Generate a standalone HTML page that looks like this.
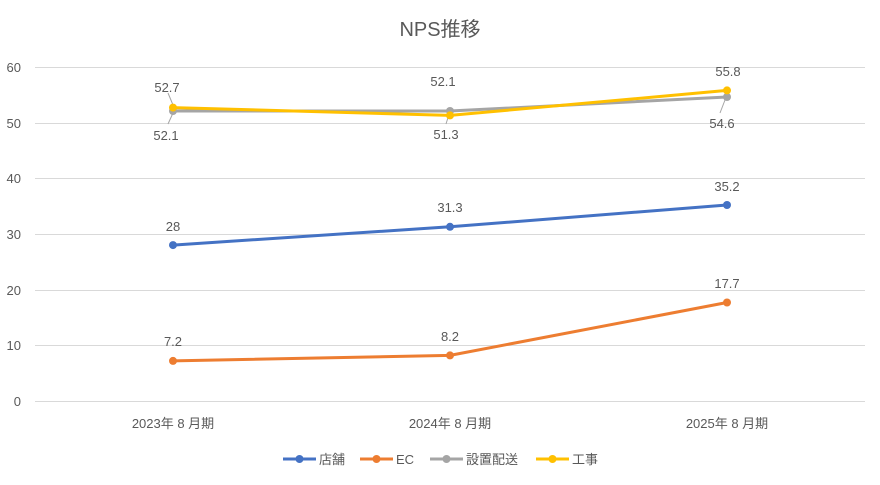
<!DOCTYPE html>
<html><head><meta charset="utf-8"><style>
body{margin:0;background:#fff}
svg text{font-family:"Liberation Sans","Noto Sans CJK JP",sans-serif;fill:#595959}
</style></head><body>
<svg width="880" height="480" viewBox="0 0 880 480" xmlns="http://www.w3.org/2000/svg">
<rect width="880" height="480" fill="#fff"/>
<text x="440" y="36" font-size="20" text-anchor="middle">NPS推移</text>
<g stroke="#d9d9d9" stroke-width="1">
<line x1="35" x2="865" y1="67.5" y2="67.5"/>
<line x1="35" x2="865" y1="123.5" y2="123.5"/>
<line x1="35" x2="865" y1="178.5" y2="178.5"/>
<line x1="35" x2="865" y1="234.5" y2="234.5"/>
<line x1="35" x2="865" y1="290.5" y2="290.5"/>
<line x1="35" x2="865" y1="345.5" y2="345.5"/>
<line x1="35" x2="865" y1="401.5" y2="401.5"/>
</g>
<g font-size="13" text-anchor="end">
<text x="21" y="72">60</text><text x="21" y="128">50</text><text x="21" y="183">40</text>
<text x="21" y="239">30</text><text x="21" y="295">20</text><text x="21" y="350">10</text><text x="21" y="406">0</text>
</g>
<g font-size="13" text-anchor="middle">
<text x="173" y="428">2023年 8 月期</text><text x="450" y="428">2024年 8 月期</text><text x="727" y="428">2025年 8 月期</text>
</g>
<g stroke="#a5a5a5" stroke-width="1">
<line x1="168" y1="93" x2="173" y2="105"/><line x1="173" y1="113" x2="168" y2="124"/>
<line x1="450" y1="111" x2="446" y2="124"/><line x1="725" y1="100" x2="720" y2="113"/>
</g>
<g fill="none" stroke-width="3" stroke-linejoin="round">
<polyline points="173,245.1 450,226.8 727,205" stroke="#4472c4"/>
<polyline points="173,360.9 450,355.4 727,302.5" stroke="#ed7d31"/>
<polyline points="173,111 450,111 727,97" stroke="#a5a5a5"/>
<polyline points="173,107.6 450,115.4 727,90.4" stroke="#ffc000"/>
</g>
<g fill="#4472c4"><circle cx="173" cy="245.1" r="4"/><circle cx="450" cy="226.8" r="4"/><circle cx="727" cy="205" r="4"/></g>
<g fill="#ed7d31"><circle cx="173" cy="360.9" r="4"/><circle cx="450" cy="355.4" r="4"/><circle cx="727" cy="302.5" r="4"/></g>
<g fill="#a5a5a5"><circle cx="173" cy="111" r="4"/><circle cx="450" cy="111" r="4"/><circle cx="727" cy="97" r="4"/></g>
<g fill="#ffc000"><circle cx="173" cy="107.6" r="4"/><circle cx="450" cy="115.4" r="4"/><circle cx="727" cy="90.4" r="4"/></g>
<g font-size="13" text-anchor="middle">
<text x="173" y="231">28</text><text x="450" y="212">31.3</text><text x="727" y="191">35.2</text>
<text x="173" y="346">7.2</text><text x="450" y="341">8.2</text><text x="727" y="288">17.7</text>
<text x="167" y="92">52.7</text><text x="166" y="140">52.1</text>
<text x="443" y="86">52.1</text><text x="446" y="139">51.3</text>
<text x="728" y="76">55.8</text><text x="722" y="128">54.6</text>
</g>
<g stroke-width="3">
<line x1="283" x2="316" y1="459" y2="459" stroke="#4472c4"/><circle cx="299.5" cy="459" r="4" fill="#4472c4"/>
<line x1="360" x2="393" y1="459" y2="459" stroke="#ed7d31"/><circle cx="376.5" cy="459" r="4" fill="#ed7d31"/>
<line x1="430" x2="463" y1="459" y2="459" stroke="#a5a5a5"/><circle cx="446.5" cy="459" r="4" fill="#a5a5a5"/>
<line x1="536" x2="569" y1="459" y2="459" stroke="#ffc000"/><circle cx="552.5" cy="459" r="4" fill="#ffc000"/>
</g>
<g font-size="13">
<text x="319" y="464">店舗</text><text x="396" y="464">EC</text><text x="466" y="464">設置配送</text><text x="572" y="464">工事</text>
</g>
</svg>
</body></html>
